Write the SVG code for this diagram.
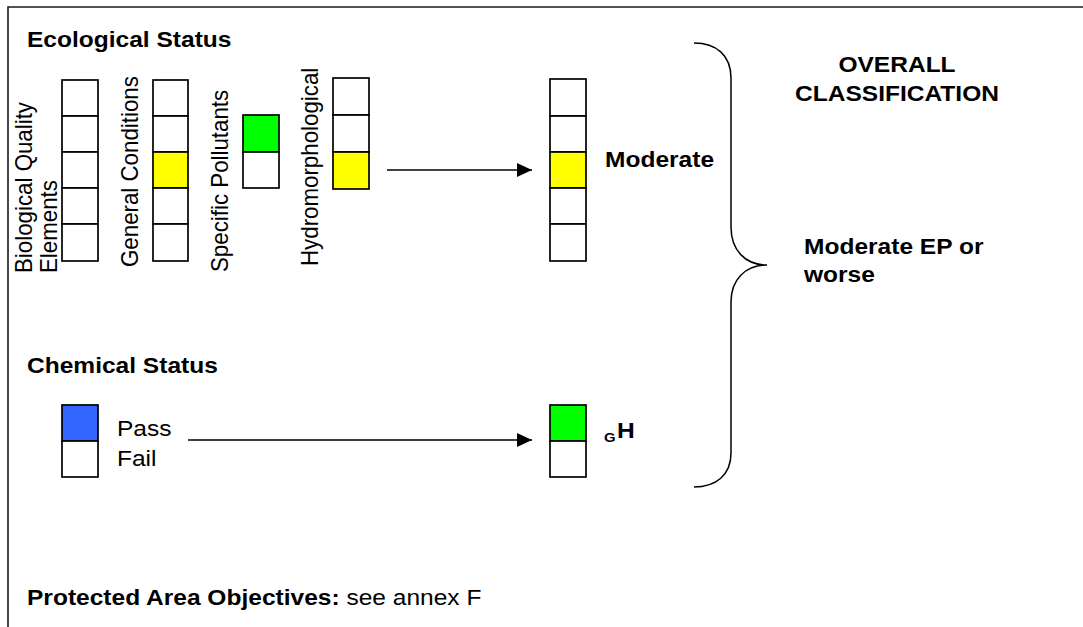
<svg xmlns="http://www.w3.org/2000/svg" width="1083" height="627" viewBox="0 0 1083 627">
<style>
.t{font-family:"Liberation Sans",Arial,sans-serif;font-size:22.3px;fill:#000}
.b{font-weight:bold}
.cell{fill:#fff;stroke:#000;stroke-width:1.7}
.y{fill:#ffff00}
.g{fill:#00ff00}
.bl{fill:#3366ff}
.conn{stroke:#000;stroke-width:1.5;fill:none}
</style>
<defs>
<marker id="ah" markerWidth="15" markerHeight="14" refX="15" refY="7" orient="auto" markerUnits="userSpaceOnUse">
<path d="M0,0 L15,7 L0,14 Z" fill="#000"/>
</marker>
</defs>
<rect width="1083" height="627" fill="#fff"/>
<g id="frame">
<path d="M8,627 L8,7 L1083,7" fill="none" stroke="#1a1a1a" stroke-width="1.6"/>
</g>
<g id="eco-title"><text class="t b" transform="translate(27,47) scale(1.1,1)">Ecological Status</text></g>
<g id="bio">
<rect class="cell" x="62" y="80" width="36" height="36"/>
<rect class="cell" x="62" y="116" width="36" height="36"/>
<rect class="cell" x="62" y="152" width="36" height="36"/>
<rect class="cell" x="62" y="188" width="36" height="36"/>
<rect class="cell" x="62" y="224" width="36" height="37"/>
<text class="t" transform="translate(32,273) scale(1.1,1) rotate(-90)">Biological Quality</text>
<text class="t" transform="translate(57,273) scale(1.1,1) rotate(-90)">Elements</text>
</g>
<g id="gen">
<rect class="cell" x="153" y="80" width="35" height="36"/>
<rect class="cell" x="153" y="116" width="35" height="36"/>
<rect class="cell y" x="153" y="152" width="35" height="36"/>
<rect class="cell" x="153" y="188" width="35" height="36"/>
<rect class="cell" x="153" y="224" width="35" height="37"/>
<text class="t" transform="translate(138,267) scale(1.1,1) rotate(-90)">General Conditions</text>
</g>
<g id="spec">
<rect class="cell g" x="243" y="115" width="36" height="37"/>
<rect class="cell" x="243" y="152" width="36" height="36"/>
<text class="t" transform="translate(228,272) scale(1.1,1) rotate(-90)">Specific Pollutants</text>
</g>
<g id="hydro">
<rect class="cell" x="333" y="78" width="36" height="37"/>
<rect class="cell" x="333" y="115" width="36" height="37"/>
<rect class="cell y" x="333" y="152" width="36" height="37"/>
<text class="t" transform="translate(318,266) scale(1.1,1) rotate(-90)">Hydromorphological</text>
</g>
<g id="eco-result">
<rect class="cell" x="550" y="79" width="36" height="37"/>
<rect class="cell" x="550" y="116" width="36" height="36"/>
<rect class="cell y" x="550" y="152" width="36" height="36"/>
<rect class="cell" x="550" y="188" width="36" height="36"/>
<rect class="cell" x="550" y="224" width="36" height="37"/>
<text class="t b" transform="translate(605,167) scale(1.1,1)">Moderate</text>
</g>
<g id="chem-title"><text class="t b" transform="translate(27,373) scale(1.1,1)">Chemical Status</text></g>
<g id="chem">
<rect class="cell bl" x="62" y="405" width="36" height="36"/>
<rect class="cell" x="62" y="441" width="36" height="36"/>
<text class="t" transform="translate(117,436) scale(1.1,1)">Pass</text>
<text class="t" transform="translate(117,466) scale(1.1,1)">Fail</text>
</g>
<g id="chem-result">
<rect class="cell g" x="550" y="405" width="36" height="36"/>
<rect class="cell" x="550" y="441" width="36" height="36"/>
<text class="t b" transform="translate(604,442) scale(1.1,1)" style="font-size:13.5px">G</text>
<text class="t b" transform="translate(617,438) scale(1.1,1)">H</text>
</g>
<g id="overall">
<text class="t b" text-anchor="middle" transform="translate(897,72) scale(1.1,1)">OVERALL</text>
<text class="t b" text-anchor="middle" transform="translate(897,101) scale(1.1,1)">CLASSIFICATION</text>
<text class="t b" transform="translate(804,254) scale(1.1,1)">Moderate EP or</text>
<text class="t b" transform="translate(804,282) scale(1.1,1)">worse</text>
</g>
<g id="protected">
<text class="t" transform="translate(27,605) scale(1.1,1)"><tspan class="b">Protected Area Objectives:</tspan> see annex F</text>
</g>
<g id="connectors">
<line class="conn" x1="387" y1="170" x2="532" y2="170" marker-end="url(#ah)"/>
<line class="conn" x1="188" y1="440" x2="532" y2="440" marker-end="url(#ah)"/>
<path class="conn" d="M694,43 C716,43 731,55 731,78 L731,227 C731,250 745,265 767,265 C745,265 731,280 731,302 L731,453 C731,475 716,487 694,487"/>
</g>
</svg>
